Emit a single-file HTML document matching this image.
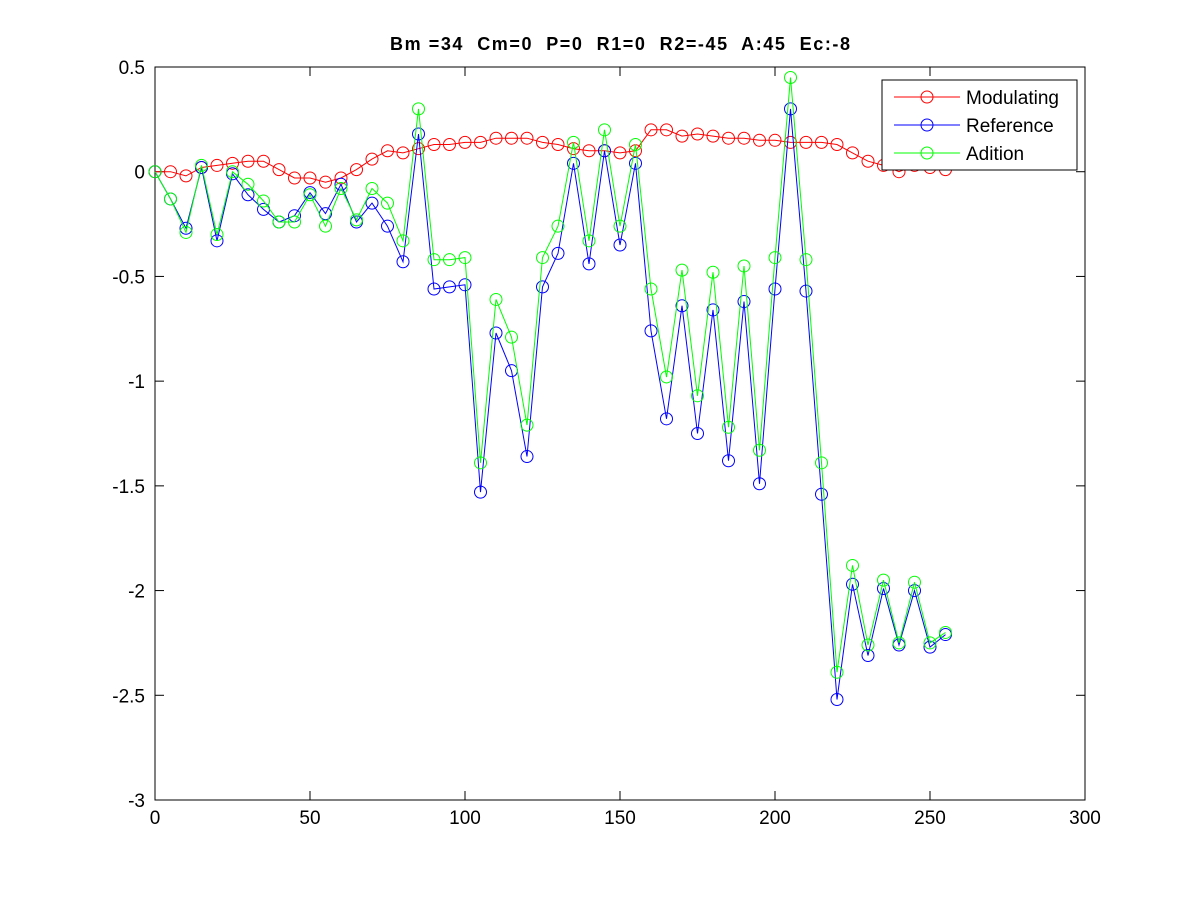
<!DOCTYPE html>
<html><head><meta charset="utf-8"><style>
body{margin:0;background:#fff}
svg{display:block;font-family:"Liberation Sans",Arial,sans-serif}
</style></head><body>
<svg id="chart" width="1200" height="900">
<rect width="1200" height="900" fill="#fff"/>
<text x="620" y="50" text-anchor="middle" font-size="18" font-weight="bold" textLength="460" lengthAdjust="spacing" style="white-space:pre">Bm =34  Cm=0  P=0  R1=0  R2=-45  A:45  Ec:-8</text>
<g id="axes"></g>
<g id="series"></g>
<g id="legend"></g>
</svg>
<script>
const xValues=[0,5,10,15,20,25,30,35,40,45,50,55,60,65,70,75,80,85,90,95,100,105,110,115,120,125,130,135,140,145,150,155,160,165,170,175,180,185,190,195,200,205,210,215,220,225,230,235,240,245,250,255];
const modulating=[0,0,-0.02,0.02,0.03,0.04,0.05,0.05,0.01,-0.03,-0.03,-0.05,-0.03,0.01,0.06,0.1,0.09,0.11,0.13,0.13,0.14,0.14,0.16,0.16,0.16,0.14,0.13,0.11,0.1,0.1,0.09,0.1,0.2,0.2,0.17,0.18,0.17,0.16,0.16,0.15,0.15,0.14,0.14,0.14,0.13,0.09,0.05,0.03,0.0,0.03,0.02,0.01];
const reference=[0,-0.13,-0.27,0.02,-0.33,-0.01,-0.11,-0.18,-0.24,-0.21,-0.1,-0.2,-0.06,-0.24,-0.15,-0.26,-0.43,0.18,-0.56,-0.55,-0.54,-1.53,-0.77,-0.95,-1.36,-0.55,-0.39,0.04,-0.44,0.1,-0.35,0.04,-0.76,-1.18,-0.64,-1.25,-0.66,-1.38,-0.62,-1.49,-0.56,0.3,-0.57,-1.54,-2.52,-1.97,-2.31,-1.99,-2.26,-2.0,-2.27,-2.21];
const adition=[0,-0.13,-0.29,0.03,-0.3,0.0,-0.06,-0.14,-0.24,-0.24,-0.11,-0.26,-0.08,-0.23,-0.08,-0.15,-0.33,0.3,-0.42,-0.42,-0.41,-1.39,-0.61,-0.79,-1.21,-0.41,-0.26,0.14,-0.33,0.2,-0.26,0.13,-0.56,-0.98,-0.47,-1.07,-0.48,-1.22,-0.45,-1.33,-0.41,0.45,-0.42,-1.39,-2.39,-1.88,-2.26,-1.95,-2.25,-1.96,-2.25,-2.2];
const xTicks=[0,50,100,150,200,250,300];
const yTicks=[0.5,0,-0.5,-1,-1.5,-2,-2.5,-3];
const seriesNames=["Modulating","Reference","Adition"];
const seriesColors=["#ff0000","#0000ff","#00ff00"];

const L=155,R=1085,T=67,B=800;
const xs=v=>L+(v-0)/300*(R-L);
const ys=v=>T+(0.5-v)/3.5*(B-T);
const NS="http://www.w3.org/2000/svg";
function mk(tag,attrs,parent){const e=document.createElementNS(NS,tag);for(const k in attrs)e.setAttribute(k,attrs[k]);parent.appendChild(e);return e;}
const axes=document.getElementById('axes');
const box=mk('rect',{x:L,y:T,width:R-L,height:B-T,fill:'none',stroke:'#000','stroke-width':1},axes);


xTicks.forEach(t=>{const x=xs(t);
 mk('line',{x1:x,x2:x,y1:B,y2:B-9,stroke:'#000'},axes);
 mk('line',{x1:x,x2:x,y1:T,y2:T+9,stroke:'#000'},axes);
 const tx=mk('text',{x:x,y:B+24,'text-anchor':'middle','font-size':19},axes);tx.textContent=t;
 
 
});
yTicks.forEach(t=>{const y=ys(t);
 mk('line',{x1:L,x2:L+9,y1:y,y2:y,stroke:'#000'},axes);
 mk('line',{x1:R,x2:R-9,y1:y,y2:y,stroke:'#000'},axes);
 const tx=mk('text',{x:L-10,y:y+7,'text-anchor':'end','font-size':19},axes);tx.textContent=t;
 
 
});
const sg=document.getElementById('series');
[modulating,reference,adition].forEach((data,i)=>{
 const g=mk('g',{},sg);
 
 
 const pts=data.map((v,j)=>xs(xValues[j]).toFixed(1)+','+ys(v).toFixed(1)).join(' ');
 mk('polyline',{points:pts,fill:'none',stroke:seriesColors[i],'stroke-width':1},g);
 data.forEach((v,j)=>{const c=mk('circle',{cx:xs(xValues[j]),cy:ys(v),r:6,fill:'none',stroke:seriesColors[i],'stroke-width':1},g);
  
  });
});
const lg=document.getElementById('legend');
mk('rect',{x:882,y:80,width:195,height:90,fill:'#fff',stroke:'#000'},lg);
seriesNames.forEach((n,i)=>{const y=97+i*28;
 const e=mk('g',{},lg);
 
 
 mk('line',{x1:894,x2:960,y1:y,y2:y,stroke:seriesColors[i]},e);
 mk('circle',{cx:927,cy:y,r:6,fill:'none',stroke:seriesColors[i]},e);
 const t=mk('text',{x:966,y:y+7,'font-size':19},e);t.textContent=n;
});
</script>
</body></html>
